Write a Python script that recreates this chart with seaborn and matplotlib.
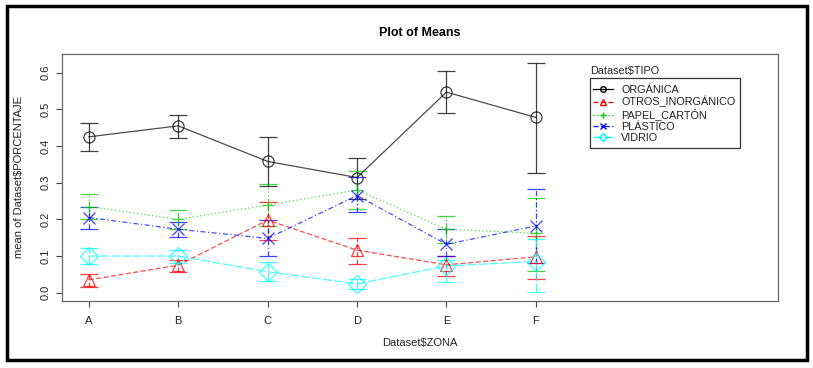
import numpy as np
import pandas as pd
import matplotlib
matplotlib.use("Agg")
import matplotlib.pyplot as plt
import seaborn as sns
from matplotlib.lines import Line2D
from matplotlib.patches import Rectangle

zones = ["A", "B", "C", "D", "E", "F"]
tipos = ["ORGÁNICA", "OTROS_INORGÁNICO", "PAPEL_CARTÓN", "PLÁSTICO", "VIDRIO"]

organica = [0.425, 0.455, 0.358, 0.314, 0.547, 0.478]
organica_lo = [0.386, 0.421, 0.291, 0.256, 0.490, 0.326]
organica_hi = [0.464, 0.485, 0.425, 0.368, 0.605, 0.627]

otros = [0.035, 0.075, 0.198, 0.116, 0.076, 0.098]
otros_lo = [0.015, 0.057, 0.145, 0.077, 0.046, 0.037]
otros_hi = [0.050, 0.089, 0.246, 0.150, 0.101, 0.155]

papel = [0.235, 0.200, 0.239, 0.280, 0.173, 0.162]
papel_lo = [0.200, 0.175, 0.183, 0.227, 0.136, 0.060]
papel_hi = [0.269, 0.225, 0.296, 0.333, 0.210, 0.257]

plastico = [0.205, 0.173, 0.148, 0.265, 0.132, 0.182]
plastico_lo = [0.174, 0.151, 0.101, 0.219, 0.101, 0.080]
plastico_hi = [0.235, 0.192, 0.198, 0.316, 0.173, 0.283]

vidrio = [0.100, 0.100, 0.057, 0.024, 0.073, 0.085]
vidrio_lo = [0.077, 0.082, 0.032, 0.011, 0.028, 0.003]
vidrio_hi = [0.123, 0.116, 0.083, 0.037, 0.089, 0.146]

means = [organica, otros, papel, plastico, vidrio]
los = [organica_lo, otros_lo, papel_lo, plastico_lo, vidrio_lo]
his = [organica_hi, otros_hi, papel_hi, plastico_hi, vidrio_hi]

colors = ["#000000", "#FF0000", "#00CD00", "#0000FF", "#00FFFF"]
markers = ["o", "^", "+", "x", "D"]
msizes = [8, 9, 9, 8, 9]
lstyles = ["-", (0, (4, 2)), (0, (1, 2)), (0, (4, 2, 1, 2)), (0, (7, 2))]

rows = []
for t, m in zip(tipos, means):
    for i, z in enumerate(zones):
        rows.append({"ZONA": z, "x": i, "TIPO": t, "mean": m[i]})
df = pd.DataFrame(rows)

plt.rcParams["font.family"] = ["Liberation Sans", "DejaVu Sans"]
fig = plt.figure(figsize=(8.13, 3.68), dpi=100)
ax = fig.add_axes([0.0763, 0.1821, 0.8807, 0.6712])

for k, t in enumerate(tipos):
    sub = df[df["TIPO"] == t]
    x = sub["x"].values
    m = np.array(means[k]); lo = np.array(los[k]); hi = np.array(his[k])
    eb = ax.errorbar(x, m, yerr=[m - lo, hi - m], fmt="none", ecolor=colors[k],
                     elinewidth=0.9, capsize=6.3, capthick=0.9, alpha=0.75, zorder=2)
    for lc in eb[2]:
        lc.set_linestyle(lstyles[k])
    sns.lineplot(data=sub, x="x", y="mean", ax=ax, color=colors[k], lw=0.9,
                 alpha=0.7, legend=False, zorder=3, linestyle=lstyles[k])
    ax.plot(x, m, ls="none", marker=markers[k], ms=msizes[k], mfc="none",
            mec=colors[k], mew=0.9, alpha=0.75, zorder=4)

ax.set_xlim(-0.30, 7.71)
ax.set_ylim(-0.0226, 0.651)
ax.set_xticks(range(len(zones)))
ax.set_xticklabels(zones, fontsize=8, color="#222222")
ax.set_yticks([0.0, 0.1, 0.2, 0.3, 0.4, 0.5, 0.6])
ax.set_yticklabels(["0.0", "0.1", "0.2", "0.3", "0.4", "0.5", "0.6"], fontsize=8,
                   rotation=90, va="center", color="#222222")
ax.tick_params(axis="x", length=4.5, width=0.8, color="#444444", pad=6)
ax.tick_params(axis="y", length=4.5, width=0.8, color="#444444", pad=4)
for s in ax.spines.values():
    s.set_color("#666666")
    s.set_linewidth(0.9)
ax.set_xlabel("Dataset$ZONA", fontsize=8, labelpad=9, color="#222222")
ax.set_ylabel("mean of Dataset$PORCENTAJE", fontsize=8, labelpad=12, color="#222222")
ax.set_title("Plot of Means", fontsize=9, fontweight="bold", pad=13)

handles = [Line2D([0], [0], color=colors[k], ls=lstyles[k], lw=0.9, marker=markers[k],
                  ms=4, mfc="none", mec=colors[k]) for k in range(len(tipos))]
leg = ax.legend(handles, tipos, loc="upper left", bbox_to_anchor=(0.7416, 0.874),
                fontsize=7.8, frameon=False, borderpad=0,
                handlelength=1.8, handletextpad=0.8, labelspacing=0.1,
                borderaxespad=0)
for txt in leg.get_texts():
    txt.set_color("#222222")
ax.add_patch(Rectangle((0.737, 0.619), 0.210, 0.284, transform=ax.transAxes,
                       fill=False, edgecolor="#333333", linewidth=0.9, zorder=5))
ax.text(0.737, 0.931, "Dataset$TIPO", transform=ax.transAxes, fontsize=7.8,
        ha="left", va="center", color="#222222")

fig.patches.append(Rectangle((0.008, 0.022), 0.985, 0.963, transform=fig.transFigure,
                             fill=False, edgecolor="black", linewidth=2.5))

fig.savefig("out.png", dpi=100)
